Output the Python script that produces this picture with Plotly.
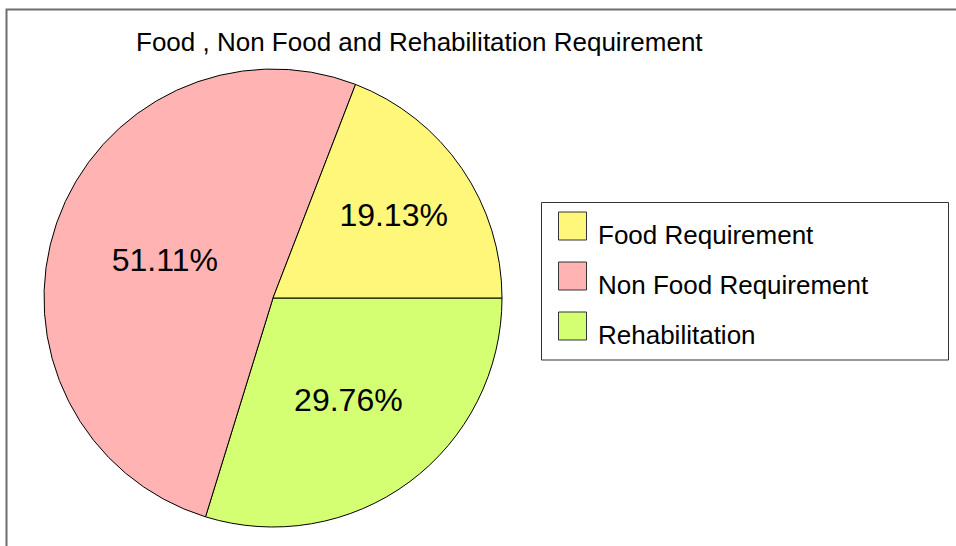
import plotly.graph_objects as go

categories = ["Food Requirement", "Non Food Requirement", "Rehabilitation"]
shares = [19.13, 51.11, 29.76]
colors = ["#FFF77A", "#FFB3B3", "#D4FF73"]
title_text = "Food , Non Food and Rehabilitation Requirement"

W, H = 956, 546
FONT = "Liberation Sans, Arial, sans-serif"

def px(x):
    return x / W

def py(y):
    return 1 - y / H

# slices run counterclockwise from 3 o'clock: Food, Non Food, Rehabilitation
# (drawn clockwise from 3 o'clock in reversed order)
fig = go.Figure()
fig.add_trace(go.Pie(
    labels=categories[::-1],
    values=shares[::-1],
    marker=dict(colors=colors[::-1], line=dict(color="#000000", width=1)),
    sort=False,
    direction="clockwise",
    rotation=90,
    texttemplate="%{percent:.2%}",
    textposition="inside",
    insidetextorientation="horizontal",
    insidetextfont=dict(family=FONT, size=32, color="#000000"),
    domain=dict(x=[px(44), px(502)], y=[py(527), py(69)]),
    showlegend=False,
    hoverinfo="label+percent",
))

shapes = [
    # outer frame (cropped at right/bottom)
    dict(type="rect", xref="paper", yref="paper",
         x0=px(6.5), x1=1.02, y0=-0.02, y1=py(9.5),
         line=dict(color="#6e6e6e", width=2), fillcolor="rgba(0,0,0,0)"),
    # legend box
    dict(type="rect", xref="paper", yref="paper",
         x0=px(541.5), x1=px(948.5), y0=py(360), y1=py(202.5),
         line=dict(color="#333333", width=1), fillcolor="#ffffff"),
]
annotations = [
    dict(text=title_text, xref="paper", yref="paper", x=px(134), y=py(42),
         xanchor="left", yanchor="middle", showarrow=False,
         font=dict(family=FONT, size=26, color="#000000")),
]
for i, (name, col) in enumerate(zip(categories, colors)):
    top = 212 + 50 * i
    shapes.append(dict(type="rect", xref="paper", yref="paper",
                       x0=px(558.5), x1=px(586.5), y0=py(top + 28), y1=py(top),
                       line=dict(color="#333333", width=1), fillcolor=col))
    annotations.append(dict(text=name, xref="paper", yref="paper",
                            x=px(596), y=py(top + 23), xanchor="left",
                            yanchor="middle", showarrow=False,
                            font=dict(family=FONT, size=26, color="#000000")))

fig.update_layout(
    width=W, height=H,
    margin=dict(l=0, r=0, t=0, b=0),
    paper_bgcolor="#ffffff",
    plot_bgcolor="#ffffff",
    shapes=shapes,
    annotations=annotations,
    showlegend=False,
)

fig.write_html("out.html",
               config={"displayModeBar": False},
               post_script="document.body.style.margin='0';document.body.style.overflow='hidden';")
